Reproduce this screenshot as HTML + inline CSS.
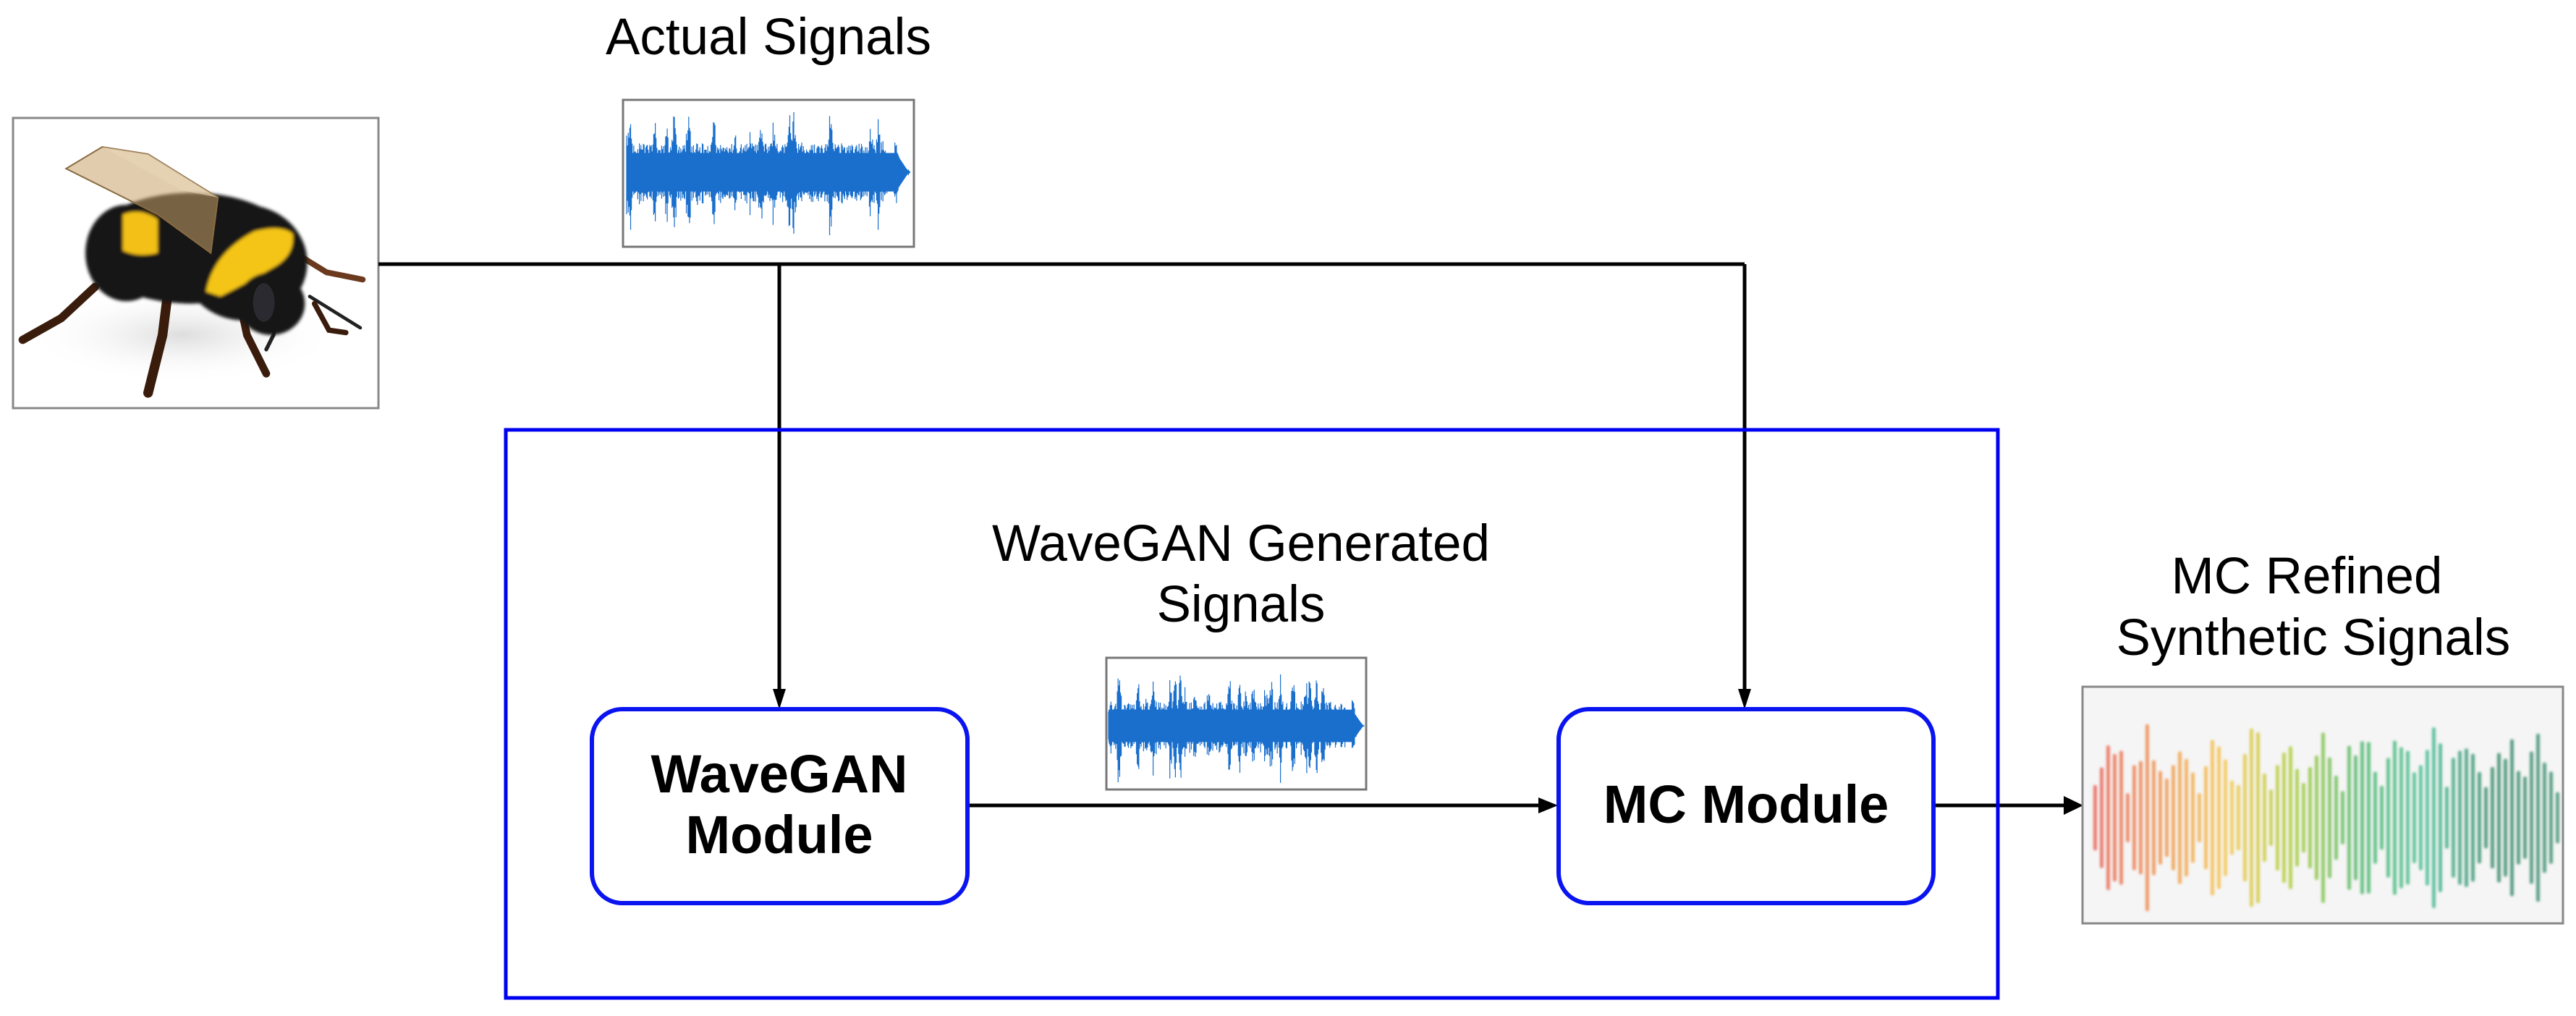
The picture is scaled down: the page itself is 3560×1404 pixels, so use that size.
<!DOCTYPE html>
<html><head><meta charset="utf-8">
<style>
html,body{margin:0;padding:0;background:#fff;}
svg{display:block;}
text{font-family:"Liberation Sans",Arial,sans-serif;fill:#000;}
</style></head>
<body>
<svg id="s" width="3560" height="1404" viewBox="0 0 3560 1404" xmlns="http://www.w3.org/2000/svg">
<defs>
<radialGradient id="shadow" cx="0.5" cy="0.5" r="0.5"><stop offset="0" stop-color="#ddd"/><stop offset="1" stop-color="#fff" stop-opacity="0"/></radialGradient>
<filter id="blur"><feGaussianBlur stdDeviation="6"/></filter>
<filter id="blur2"><feGaussianBlur stdDeviation="1.5"/></filter>
</defs>
<rect width="3560" height="1404" fill="#fff"/>

<rect x="18" y="163" width="505" height="401" fill="#fff" stroke="#888" stroke-width="3"/>
<g transform="translate(18,163) scale(0.3333)">
  <ellipse cx="700" cy="900" rx="650" ry="200" fill="url(#shadow)"/>
  <g stroke="#3a1c0c" stroke-linecap="round" fill="none">
    <path d="M340 700 L200 830 L40 920" stroke-width="34"/>
    <path d="M640 740 L620 900 L560 1140" stroke-width="40"/>
    <path d="M940 760 L970 900 L1050 1060" stroke-width="32"/>
    <path d="M1170 560 L1300 640 L1450 670" stroke-width="24" stroke="#6b3a1e"/>
    <path d="M1230 740 L1440 870" stroke-width="14" stroke="#222"/>
    <path d="M1250 770 L1310 880 L1380 890" stroke-width="22"/>
    <path d="M1100 780 L1080 900 L1050 960" stroke-width="16" stroke="#222"/>
  </g>
  <g filter="url(#blur)">
    <ellipse cx="740" cy="540" rx="430" ry="230" fill="#121212"/>
    <ellipse cx="470" cy="560" rx="170" ry="200" fill="#161616"/>
    <ellipse cx="960" cy="600" rx="260" ry="240" fill="#141414"/>
    <path d="M455 400 Q530 370 600 420 L600 560 Q520 580 455 550 Z" fill="#f2c012"/>
    <path d="M800 720 Q830 560 1000 470 Q1110 440 1160 480 Q1170 570 1080 620 Q960 690 860 740 Z" fill="#f4c515"/>
    <ellipse cx="1070" cy="770" rx="140" ry="130" fill="#151515"/>
  </g>
  <ellipse cx="1040" cy="765" rx="45" ry="80" fill="#2a2a30"/>
  <path d="M220 210 L370 120 L560 150 L850 330 L820 560 L600 400 Z" fill="#c9a46a" fill-opacity="0.55" stroke="#8a6a40" stroke-width="6"/>
  <path d="M370 120 L560 150 L850 330 L700 300 Z" fill="#e8d6b8" fill-opacity="0.6"/>
</g>

<text x="1062" y="75" font-size="71" text-anchor="middle">Actual Signals</text>
<rect x="861" y="138" width="402" height="203" fill="#fff" stroke="#777" stroke-width="3"/>
<g id="w1"></g>

<g stroke="#000" stroke-width="5" fill="none">
  <path d="M523 365 L2411 365"/>
  <path d="M1077 365 L1077 958"/>
  <path d="M2411 365 L2411 958"/>
  <path d="M1337 1113 L2133 1113"/>
  <path d="M2672 1113 L2858 1113"/>
</g>
<g fill="#000">
  <polygon points="1068,952 1086,952 1077,980"/>
  <polygon points="2402,952 2420,952 2411,980"/>
  <polygon points="2126,1102 2126,1124 2153,1113"/>
  <polygon points="2852,1100 2852,1126 2879,1113"/>
</g>

<rect x="699" y="594" width="2062" height="785" fill="none" stroke="#0000f0" stroke-width="5"/>

<rect x="818" y="980" width="519" height="268" rx="42" fill="#fff" stroke="#0a14f0" stroke-width="6"/>
<text x="1077" y="1095" font-size="74" font-weight="bold" text-anchor="middle">WaveGAN</text>
<text x="1077" y="1179" font-size="74" font-weight="bold" text-anchor="middle">Module</text>
<rect x="2154" y="980" width="518" height="268" rx="42" fill="#fff" stroke="#0a14f0" stroke-width="6"/>
<text x="2413" y="1137" font-size="74" font-weight="bold" text-anchor="middle">MC Module</text>

<text x="1715" y="775" font-size="71" text-anchor="middle">WaveGAN Generated</text>
<text x="1715" y="859" font-size="71" text-anchor="middle">Signals</text>
<rect x="1529" y="909" width="359" height="182" fill="#fff" stroke="#777" stroke-width="3"/>
<g id="w2"></g>

<text x="3188" y="820" font-size="71" text-anchor="middle">MC Refined</text>
<text x="3197" y="905" font-size="71" text-anchor="middle">Synthetic Signals</text>
<rect x="2878" y="949" width="664" height="327" fill="#f5f5f5" stroke="#888" stroke-width="3"/>
<g id="w3" filter="url(#blur2)"></g>
</svg>
<script>
(function(){
var NS="http://www.w3.org/2000/svg";
var seed=11;function r(){seed=(seed*16807)%2147483647;return seed/2147483647;}
function blue(g,x0,x1,cy,amp){
  var el=document.getElementById(g),d="";
  var bursts=[];for(var i=0;i<28;i++)bursts.push([r(),0.55+0.45*r()]);
  for(var x=x0;x<x1;x+=1.1){
    var t=(x-x0)/(x1-x0);
    var env=0.42;
    for(var k=0;k<bursts.length;k++){var dd=(t-bursts[k][0])*90;env=Math.max(env,bursts[k][1]*Math.exp(-dd*dd));}
    if(t>0.9) env*=Math.max(0,(1-t)/0.1);
    var a=amp*env*(0.55+0.45*r());
    d+="M"+x.toFixed(1)+" "+(cy-a).toFixed(1)+"V"+(cy+a*(0.8+0.4*r())).toFixed(1);
  }
  var p=document.createElementNS(NS,"path");
  p.setAttribute("d",d);p.setAttribute("stroke","#1a6fcc");p.setAttribute("stroke-width","1.2");p.setAttribute("fill","none");
  el.appendChild(p);
  var c=document.createElementNS(NS,"path");
  var h=amp*0.28;
  c.setAttribute("d","M"+x0+" "+(cy-h)+"L"+(x1-(x1-x0)*0.05)+" "+(cy-h)+"L"+(x1-2)+" "+cy+"L"+(x1-(x1-x0)*0.05)+" "+(cy+h)+"L"+x0+" "+(cy+h)+"Z");
  c.setAttribute("fill","#1a6fcc");
  el.appendChild(c);
}
blue("w1",866,1258,238,95);
blue("w2",1532,1886,1003,80);
var cols=[[232,100,90],[240,150,80],[245,200,80],[170,205,60],[80,185,110],[75,190,150],[60,140,110],[70,150,120]];
function col(t){var n=cols.length-1,i=Math.min(n-1,Math.floor(t*n)),f=t*n-i,a=cols[i],b=cols[i+1];
 return "rgb("+[0,1,2].map(function(k){return Math.round(a[k]+(b[k]-a[k])*f)}).join(",")+")";}
var g=document.getElementById("w3");
for(var x=2893;x<3535;x+=9){
  var t=(x-2893)/642;
  var env=0.35+0.65*Math.pow(Math.abs(Math.sin(t*Math.PI*13+0.3)),1.2);
  var a=110*env*(0.75+0.25*r())+(r()<0.15?25:0);
  var l=document.createElementNS(NS,"rect");
  l.setAttribute("x",x);l.setAttribute("y",1130-a);l.setAttribute("width",5);l.setAttribute("height",2*a);
  l.setAttribute("rx",2);l.setAttribute("fill",col(t));l.setAttribute("opacity","0.85");
  g.appendChild(l);
}
})();
</script>
</body></html>
